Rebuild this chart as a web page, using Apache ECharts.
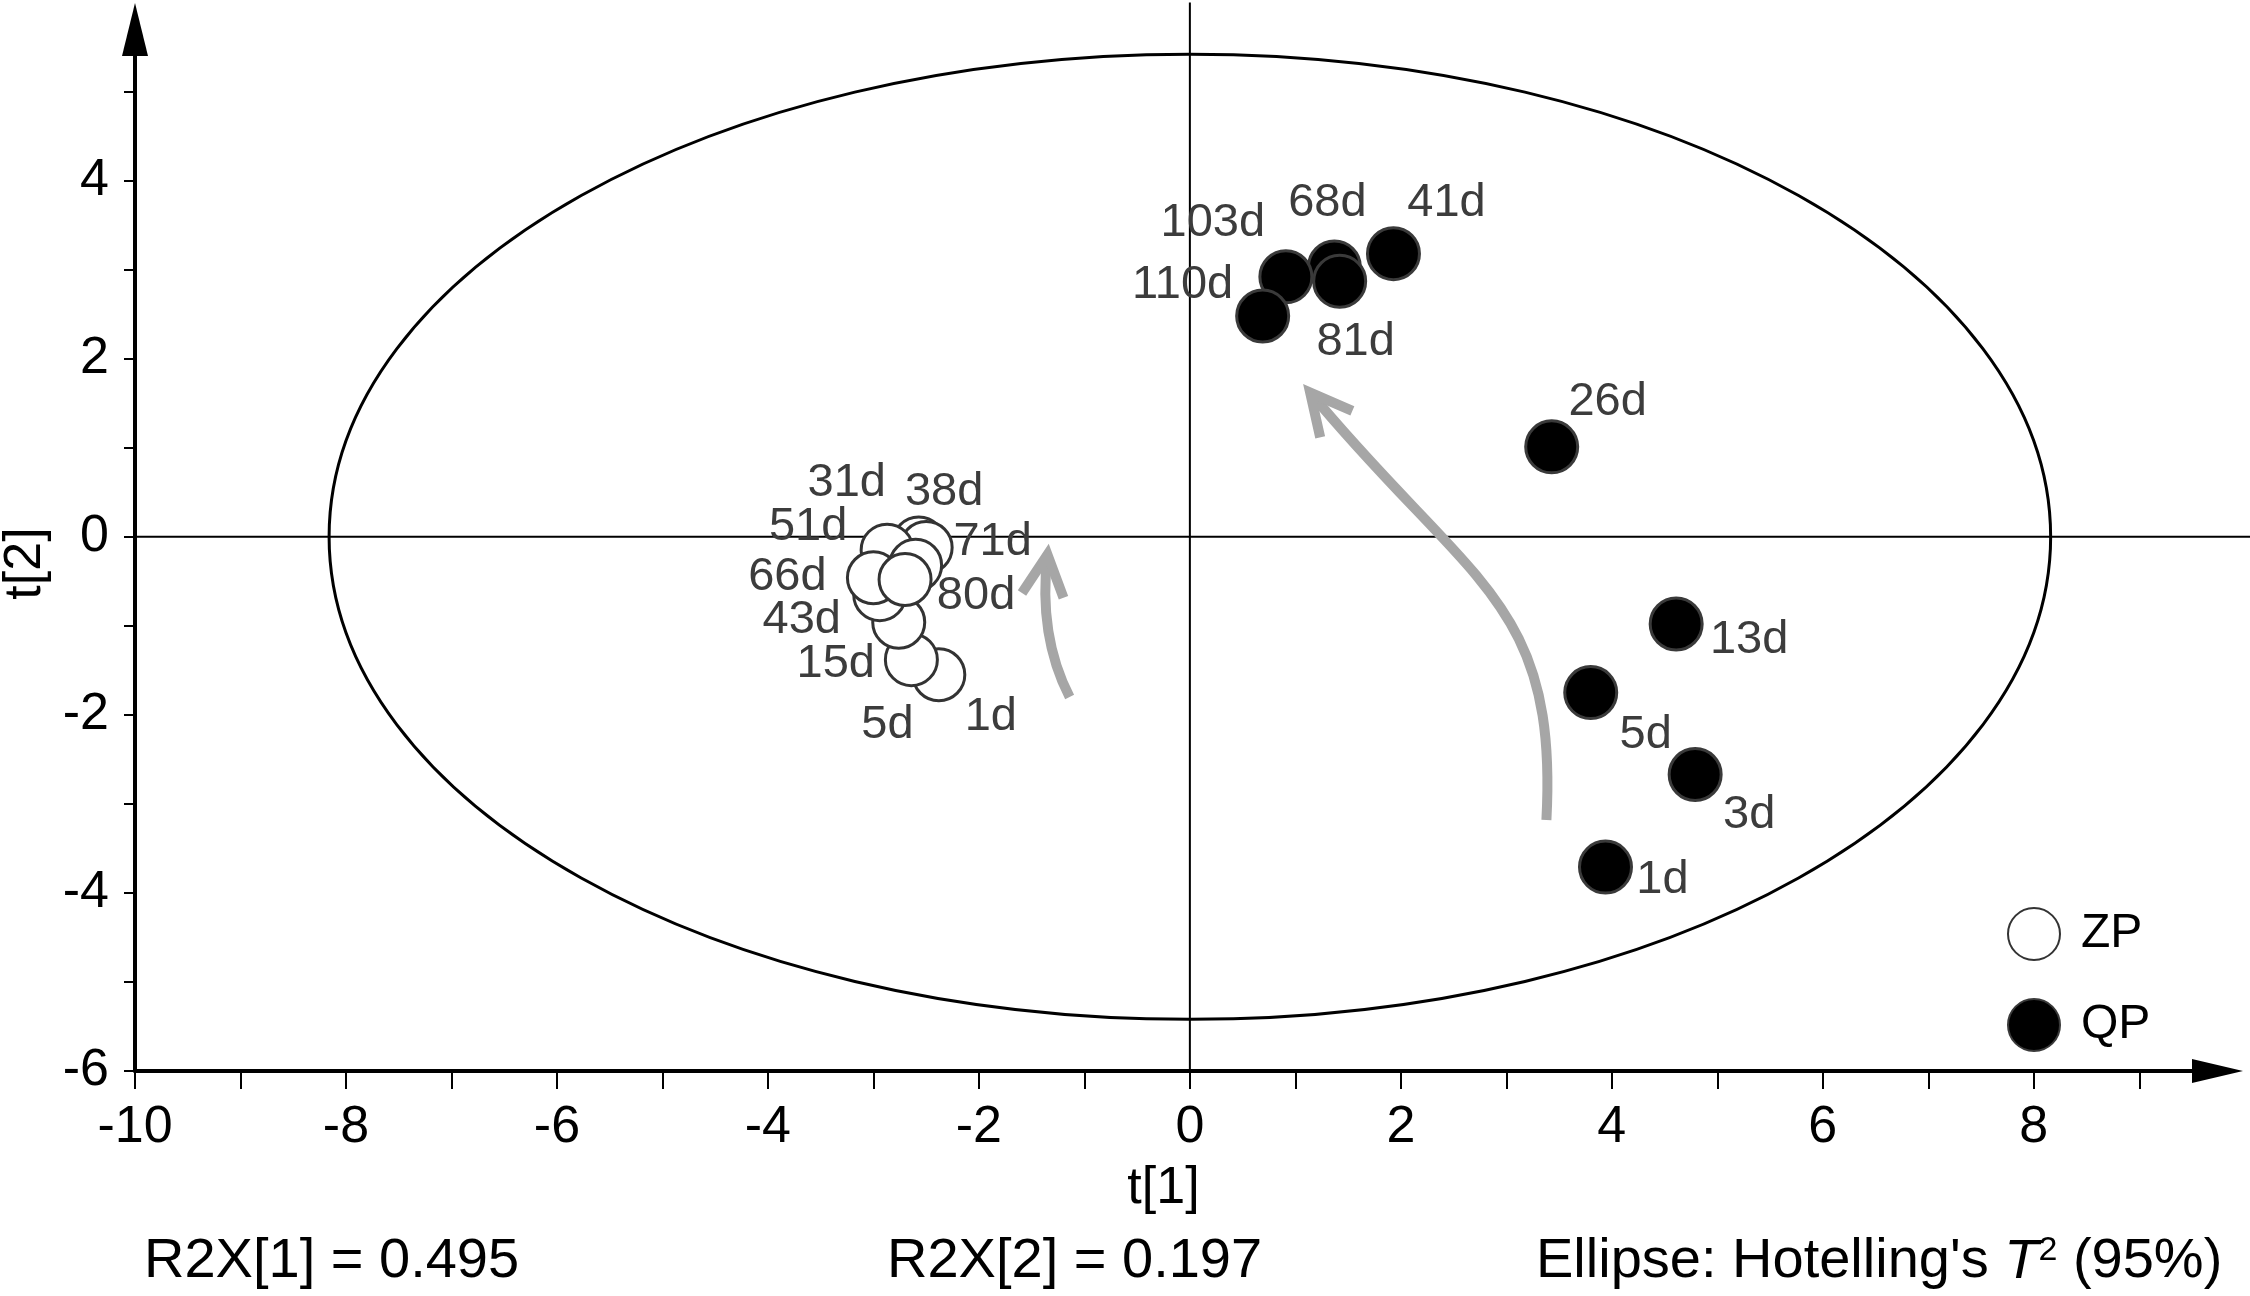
<!DOCTYPE html>
<html lang="en">
<head>
<meta charset="UTF-8">
<title>PCA score plot</title>
<style>
    html, body { margin: 0; padding: 0; background: #fff; }
    #chart { width: 2250px; height: 1296px; }
</style>
</head>
<body>
<div id="chart"></div>
<script src="https://cdn.jsdelivr.net/npm/echarts@6/dist/echarts.min.js"></script>
<script>
    // ZP samples (t[1], t[2])
    const zpNames = ['1d', '5d', '15d', '31d', '38d', '43d', '51d', '66d', '71d', '80d'];
    const zpT1 = [-2.38, -2.64, -2.76, -2.57, -2.50, -2.94, -2.87, -3.00, -2.60, -2.70];
    const zpT2 = [-1.55, -1.38, -0.96, -0.07, -0.12, -0.65, -0.15, -0.46, -0.32, -0.48];

    // QP samples (t[1], t[2])
    const qpNames = ['1d', '3d', '5d', '13d', '26d', '41d', '68d', '81d', '103d', '110d'];
    const qpT1 = [3.94, 4.79, 3.80, 4.61, 3.43, 1.93, 1.37, 1.42, 0.91, 0.69];
    const qpT2 = [-3.71, -2.67, -1.75, -0.98, 1.01, 3.18, 3.03, 2.87, 2.92, 2.48];

    // where each sample name sits relative to its point (px)
    const zpLabelOffset = [[52, 42], [-24, 65], [-63, 42], [-72, -60], [18, -55],
        [-78, 25], [-79, -23], [-86, -1], [77, -23], [71, 17]];
    const qpLabelOffset = [[57, 13], [54, 41], [55, 42], [73, 16], [56, -45],
        [53, -51], [-7, -64], [16, 61], [-73, -54], [-80, -31]];

    // ticks and labels
    const xTicks = [-10, -9, -8, -7, -6, -5, -4, -3, -2, -1, 0, 1, 2, 3, 4, 5, 6, 7, 8, 9];
    const xLabels = [-10, -8, -6, -4, -2, 0, 2, 4, 6, 8];
    const yTicks = [-6, -5, -4, -3, -2, -1, 0, 1, 2, 3, 4, 5];
    const yLabels = [-6, -4, -2, 0, 2, 4];

    // Hotelling's T2 ellipse: centre and semi-axes
    const ellipseCenter = [0, 0];
    const ellipseAxes = [8.16, 5.42];

    // zero lines: [from, to]
    const zeroLines = [[[-10, 0], [10.05, 0]], [[0, -6], [0, 6.0]]];

    // grey trend arrows, cubic bezier in data units: start, c1, c2, tip
    const arrowPaths = [
        [[3.38, -3.18], [3.49, -0.71], [2.65, -0.54], [1.14, 1.62]],
        [[-1.14, -1.80], [-1.37, -1.27], [-1.40, -0.71], [-1.35, -0.20]]
    ];

    const font = 'Liberation Sans, Arial, sans-serif';

    function points(names, t1, t2, offsets) {
        let arr = [];
        for (let i = 0; i < names.length; i++) {
            arr.push({
                name: names[i],
                value: [t1[i], t2[i]],
                label: { offset: offsets[i] }
            });
        }
        return arr;
    }

    const myChart = echarts.init(document.getElementById('chart'));

    const bottomText = { fontSize: 56, fontWeight: 'normal', color: '#000', fontFamily: font };

    const option = {
        animation: false,
        backgroundColor: '#fff',
        grid: {
            left: 135,
            right: 58,
            top: 56,
            bottom: 225,
            containLabel: false,
            outerBoundsMode: 'none'
        },
        title: [{
            text: 'R2X[1] = 0.495',
            left: 139,
            top: 1229,
            textStyle: bottomText
        }, {
            text: 'R2X[2] = 0.197',
            left: 882,
            top: 1229,
            textStyle: bottomText
        }, {
            text: "Ellipse: Hotelling's {i|T}{s|2} (95%)",
            left: 1531,
            top: 1229,
            textStyle: Object.assign({
                rich: {
                    i: { fontSize: 56, fontStyle: 'italic', color: '#000', fontFamily: font },
                    s: { fontSize: 34, color: '#000', fontFamily: font, verticalAlign: 'top', lineHeight: 46 }
                }
            }, bottomText)
        }],
        legend: {
            orient: 'vertical',
            left: 2002,
            top: 902,
            itemWidth: 52,
            itemHeight: 52,
            itemGap: 37,
            icon: 'circle',
            data: ['ZP', 'QP'],
            textStyle: { fontSize: 48, color: '#000', fontFamily: font, padding: [0, 0, 0, 16] }
        },
        xAxis: {
            type: 'value',
            min: -10,
            max: 9.5,
            name: 't[1]',
            nameLocation: 'middle',
            nameGap: 92,
            nameTextStyle: { fontSize: 52, color: '#000', fontFamily: font },
            axisLine: {
                show: true,
                onZero: false,
                symbol: ['none', 'triangle'],
                symbolSize: [24, 51],
                symbolOffset: [0, 25.5],
                lineStyle: { color: '#000', width: 4 }
            },
            axisTick: {
                show: true,
                customValues: xTicks,
                length: 18,
                lineStyle: { color: '#000', width: 2 }
            },
            axisLabel: {
                customValues: xLabels,
                margin: 31,
                fontSize: 52,
                color: '#000',
                fontFamily: font
            },
            splitLine: { show: false }
        },
        yAxis: {
            type: 'value',
            min: -6,
            max: 5.4,
            name: 't[2]',
            nameLocation: 'middle',
            nameGap: 75,
            nameTextStyle: { fontSize: 52, color: '#000', fontFamily: font },
            axisLine: {
                show: true,
                onZero: false,
                symbol: ['none', 'triangle'],
                symbolSize: [26, 53],
                symbolOffset: [0, 26.5],
                lineStyle: { color: '#000', width: 4 }
            },
            axisTick: {
                show: true,
                customValues: yTicks,
                length: 11,
                lineStyle: { color: '#000', width: 2 }
            },
            axisLabel: {
                customValues: yLabels,
                margin: 26,
                fontSize: 52,
                color: '#000',
                fontFamily: font
            },
            splitLine: { show: false }
        },
        series: [{
            // confidence ellipse
            type: 'custom',
            silent: true,
            clip: false,
            z: 1,
            data: [ellipseCenter],
            renderItem: function (params, api) {
                const c = api.coord([api.value(0), api.value(1)]);
                const s = api.size(ellipseAxes);
                return {
                    type: 'ellipse',
                    shape: { cx: c[0], cy: c[1], rx: s[0], ry: s[1] },
                    style: { fill: 'none', stroke: '#000', lineWidth: 3 }
                };
            }
        }, {
            // zero lines
            type: 'custom',
            silent: true,
            clip: false,
            z: 1,
            data: zeroLines.map(function (l) { return l[0]; }),
            renderItem: function (params, api) {
                const l = zeroLines[params.dataIndex];
                const a = api.coord(l[0]);
                const b = api.coord(l[1]);
                return {
                    type: 'line',
                    shape: { x1: a[0], y1: a[1], x2: b[0], y2: b[1] },
                    style: { stroke: '#000', lineWidth: 2 }
                };
            }
        }, {
            // trend arrows
            type: 'custom',
            silent: true,
            clip: false,
            z: 2,
            data: arrowPaths.map(function (p) { return p[3]; }),
            renderItem: function (params, api) {
                const p = arrowPaths[params.dataIndex].map(function (d) { return api.coord(d); });
                const dx = p[3][0] - p[2][0];
                const dy = p[3][1] - p[2][1];
                const len = Math.sqrt(dx * dx + dy * dy);
                const bx = -dx / len, by = -dy / len;
                const ang = 27 * Math.PI / 180;
                const L = 46;
                const b1 = [p[3][0] + L * (bx * Math.cos(ang) - by * Math.sin(ang)),
                    p[3][1] + L * (bx * Math.sin(ang) + by * Math.cos(ang))];
                const b2 = [p[3][0] + L * (bx * Math.cos(-ang) - by * Math.sin(-ang)),
                    p[3][1] + L * (bx * Math.sin(-ang) + by * Math.cos(-ang))];
                const st = { fill: 'none', stroke: '#a6a6a6', lineWidth: 10 };
                return {
                    type: 'group',
                    children: [{
                        type: 'bezierCurve',
                        shape: {
                            x1: p[0][0], y1: p[0][1],
                            cpx1: p[1][0], cpy1: p[1][1],
                            cpx2: p[2][0], cpy2: p[2][1],
                            x2: p[3][0], y2: p[3][1]
                        },
                        style: st
                    }, {
                        type: 'polyline',
                        shape: { points: [b1, p[3], b2] },
                        style: Object.assign({ lineJoin: 'miter' }, st)
                    }]
                };
            }
        }, {
            name: 'ZP',
            type: 'scatter',
            z: 3,
            symbol: 'circle',
            symbolSize: 52,
            itemStyle: { color: '#fff', borderColor: '#333', borderWidth: 3, opacity: 1 },
            label: {
                show: true,
                position: 'inside',
                formatter: '{b}',
                fontSize: 47,
                color: '#3c3c3c',
                fontFamily: font
            },
            emphasis: { disabled: true },
            data: points(zpNames, zpT1, zpT2, zpLabelOffset)
        }, {
            name: 'QP',
            type: 'scatter',
            z: 3,
            symbol: 'circle',
            symbolSize: 52,
            itemStyle: { color: '#000', borderColor: '#3a3a3a', borderWidth: 3, opacity: 1 },
            label: {
                show: true,
                position: 'inside',
                formatter: '{b}',
                fontSize: 47,
                color: '#3c3c3c',
                fontFamily: font
            },
            emphasis: { disabled: true },
            data: points(qpNames, qpT1, qpT2, qpLabelOffset)
        }]
    };

    myChart.setOption(option);
</script>
</body>
</html>
